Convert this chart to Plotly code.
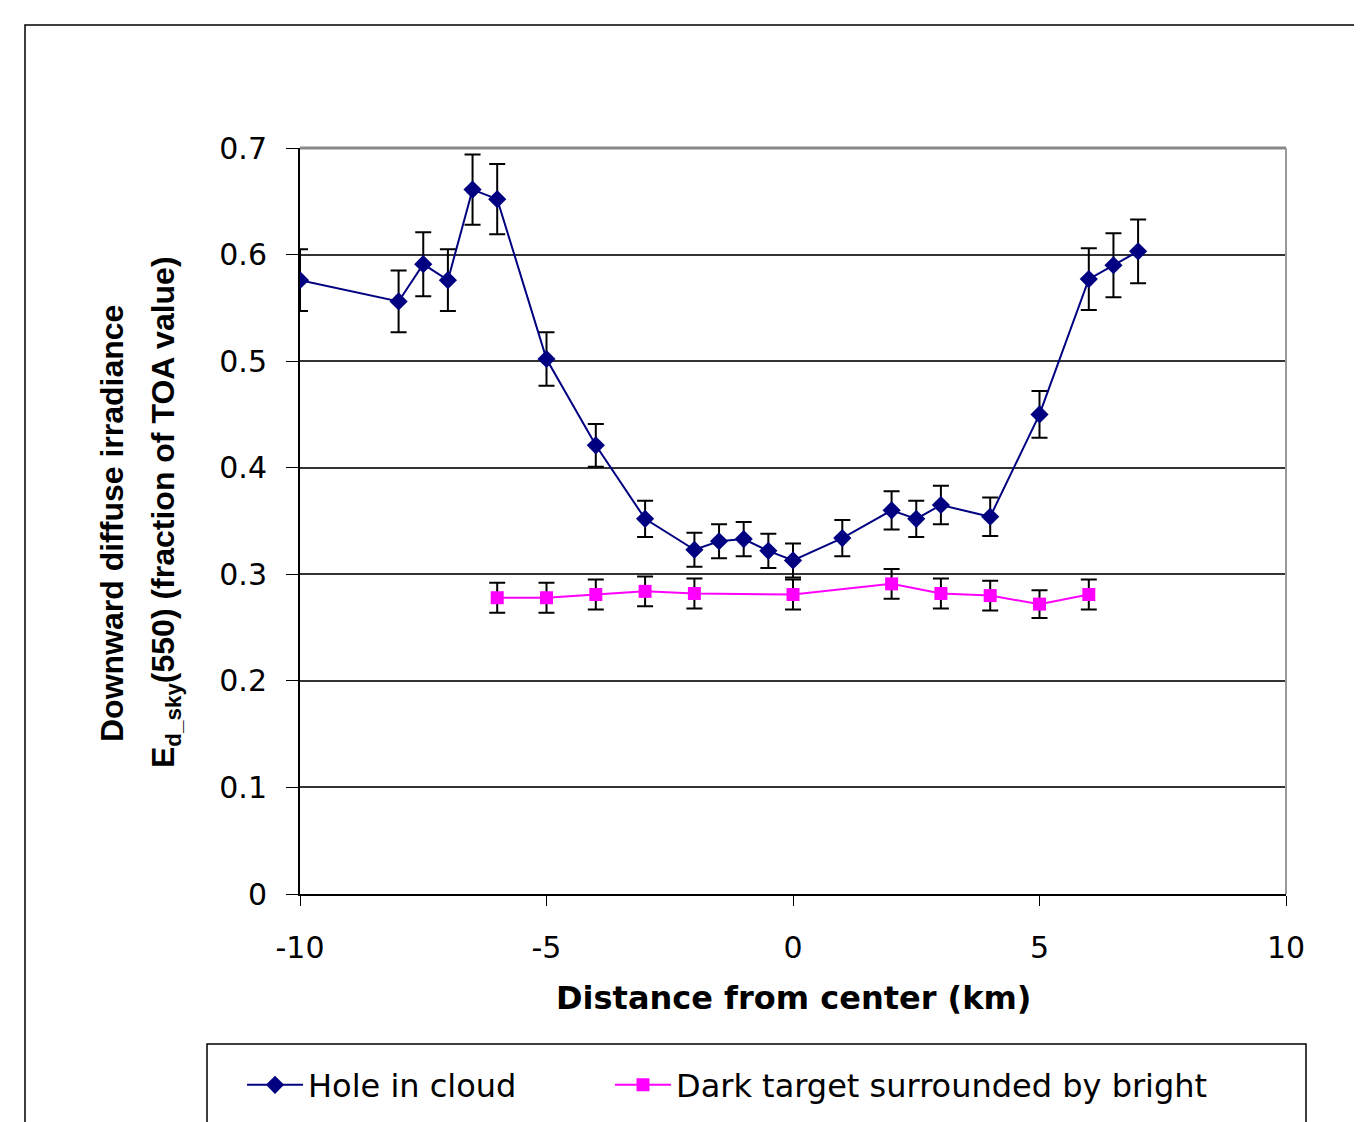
import plotly.graph_objects as go

# ---- data ----
hole_x = [-10, -8, -7.5, -7, -6.5, -6, -5, -4, -3, -2, -1.5, -1, -0.5, 0, 1, 2, 2.5, 3, 4, 5, 6, 6.5, 7]
hole_y = [0.576, 0.556, 0.591, 0.576, 0.661, 0.652, 0.502, 0.421, 0.352, 0.323, 0.331, 0.333, 0.322,
          0.313, 0.334, 0.360, 0.352, 0.365, 0.354, 0.450, 0.577, 0.590, 0.603]
hole_err = [0.029, 0.029, 0.030, 0.029, 0.033, 0.033, 0.025, 0.020, 0.017, 0.016, 0.016, 0.016, 0.016,
            0.016, 0.017, 0.018, 0.017, 0.018, 0.018, 0.022, 0.029, 0.030, 0.030]

dark_x = [-6, -5, -4, -3, -2, 0, 2, 3, 4, 5, 6]
dark_y = [0.278, 0.278, 0.281, 0.284, 0.282, 0.281, 0.291, 0.282, 0.280, 0.272, 0.281]
dark_err = [0.014, 0.014, 0.014, 0.014, 0.014, 0.014, 0.014, 0.014, 0.014, 0.013, 0.014]

x_ticks = [-10, -5, 0, 5, 10]
y_ticks = [0, 0.1, 0.2, 0.3, 0.4, 0.5, 0.6, 0.7]
y_ticktext = ["0", "0.1", "0.2", "0.3", "0.4", "0.5", "0.6", "0.7"]

OFF = 8  # page body margin
W, H = 1362 - OFF, 1122 - OFF
# plot area in page pixel coordinates
L, R, T, B = 300 - OFF, 1286 - OFF, 148 - OFF, 894 - OFF
pw, ph = R - L, B - T


def px_x(p):  # page px -> paper
    return (p - OFF - L) / pw


def px_y(p):
    return (B - (p - OFF)) / ph


def cx(p):  # page px -> container fraction
    return (p - OFF) / W


def cy(p):
    return 1 - (p - OFF) / H


fig = go.Figure()
fig.add_trace(go.Scatter(
    x=hole_x, y=hole_y, mode="lines+markers", name="Hole in cloud",
    line=dict(color="#000080", width=2),
    marker=dict(symbol="diamond", size=14, color="#000080"),
    error_y=dict(type="data", array=hole_err, visible=True, color="black", thickness=2, width=8),
    legend="legend",
))
fig.add_trace(go.Scatter(
    x=dark_x, y=dark_y, mode="lines+markers", name="Dark target surrounded by bright",
    line=dict(color="#FF00FF", width=2),
    marker=dict(symbol="square", size=13, color="#FF00FF"),
    error_y=dict(type="data", array=dark_err, visible=True, color="black", thickness=2, width=8),
    legend="legend2",
))

tick_font = dict(family="DejaVu Sans", size=30, color="black")

fig.update_xaxes(
    range=[-10, 10], tickvals=x_ticks, ticktext=[str(v) for v in x_ticks],
    showgrid=False, zeroline=False, showline=True, linecolor="black", linewidth=2,
    ticks="outside", ticklen=10, tickcolor="black", tickwidth=1,
    tickfont=tick_font, ticklabelstandoff=16, automargin=False,
)
fig.update_yaxes(
    range=[0, 0.7], tickvals=y_ticks, ticktext=y_ticktext,
    showgrid=True, gridcolor="#333333", gridwidth=1.5, zeroline=False,
    showline=True, linecolor="black", linewidth=2,
    ticks="outside", ticklen=12, tickcolor="black", tickwidth=1,
    tickfont=tick_font, ticklabelstandoff=13, automargin=False,
)

shapes = [
    dict(type="line", xref="paper", yref="paper", x0=0, x1=1, y0=1, y1=1,
         line=dict(color="#888888", width=3)),
    dict(type="line", xref="paper", yref="paper", x0=1, x1=1, y0=0, y1=1,
         line=dict(color="#999999", width=2)),
    dict(type="rect", xref="paper", yref="paper", x0=px_x(25), x1=px_x(1420),
         y0=px_y(1180), y1=px_y(25), line=dict(color="black", width=1.5), layer="below"),
    dict(type="rect", xref="paper", yref="paper", x0=px_x(207), x1=px_x(1306),
         y0=px_y(1180), y1=px_y(1044), line=dict(color="black", width=1.5)),
]

title_font = dict(family="Liberation Sans", size=32, color="black")
annotations = [
    dict(text="<b>Downward diffuse irradiance</b>", xref="paper", yref="paper",
         x=px_x(112), y=px_y(524), xanchor="center", yanchor="middle", textangle=-90, showarrow=False,
         font=title_font),
    dict(text="<b>E<sub>d_sky</sub>(550) (fraction of TOA value)</b>", xref="paper", yref="paper",
         x=px_x(165), y=px_y(512), xanchor="center", yanchor="middle", textangle=-90, showarrow=False,
         font=title_font),
    dict(text="<b>Distance from center (km)</b>", xref="paper", yref="paper",
         x=0.5, y=px_y(998), xanchor="center", yanchor="middle", showarrow=False,
         font=dict(family="DejaVu Sans", size=32, color="black")),
]

leg_font = dict(family="DejaVu Sans", size=32, color="black")
fig.update_layout(
    width=W, height=H,
    margin=dict(l=L, r=W - R, t=T, b=H - B, autoexpand=False),
    plot_bgcolor="white", paper_bgcolor="white",
    showlegend=True,
    legend=dict(xref="container", yref="container", x=cx(242), y=cy(1085),
                xanchor="left", yanchor="middle",
                font=leg_font, bgcolor="rgba(0,0,0,0)", borderwidth=0, itemwidth=56),
    legend2=dict(xref="container", yref="container", x=cx(610), y=cy(1085),
                 xanchor="left", yanchor="middle",
                 font=leg_font, bgcolor="rgba(0,0,0,0)", borderwidth=0, itemwidth=56),
    shapes=shapes, annotations=annotations,
)

fig.write_html("out.html")
